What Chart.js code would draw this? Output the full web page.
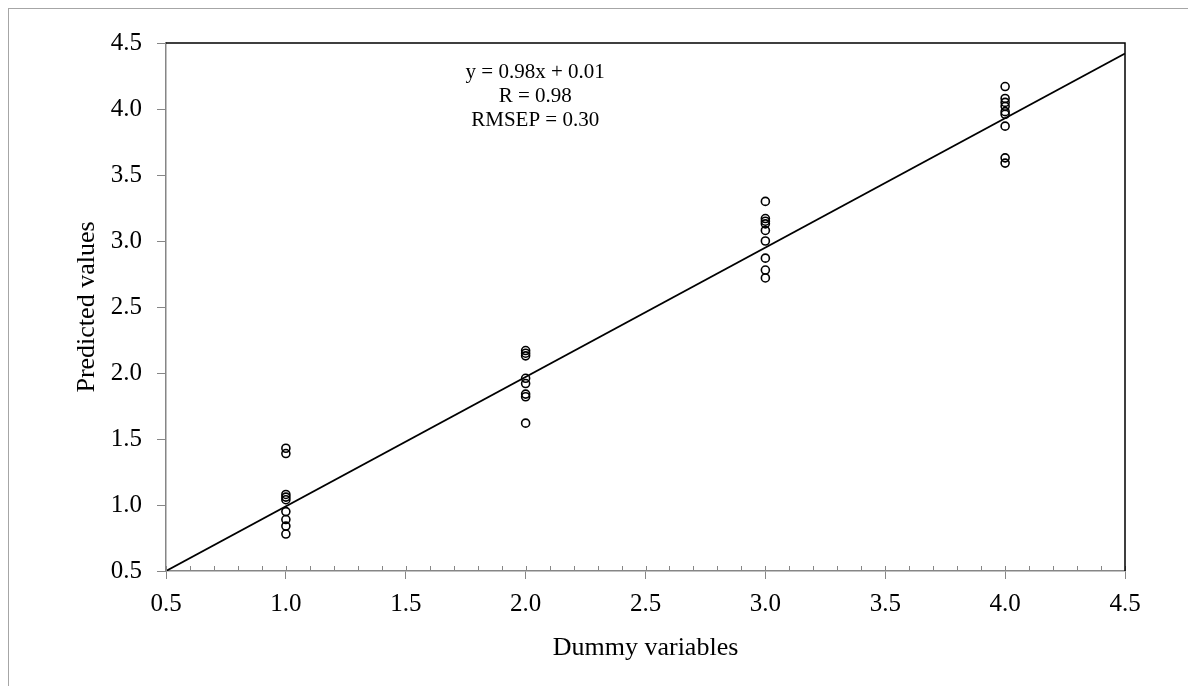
<!DOCTYPE html>
<html>
<head>
<meta charset="utf-8">
<script src="https://cdn.jsdelivr.net/npm/chart.js@4/dist/chart.umd.min.js"></script>
<style>
  html, body { margin: 0; padding: 0; background: #fff; }
  #wrap { position: relative; width: 1188px; height: 686px; overflow: hidden; }
  #frame { position: absolute; left: 8px; top: 8px; width: 1300px; height: 800px;
           border-left: 1.5px solid #a6a6a6; border-top: 1.5px solid #a6a6a6; }
  #cv { position: absolute; left: 0; top: 0; }
</style>
</head>
<body>
<div id="wrap">
  <div id="frame"></div>
  <canvas id="cv" width="1188" height="686"></canvas>
</div>
<script>
// Данные
const dummyX = [
  1, 1, 1, 1, 1, 1, 1, 1, 1,
  2, 2, 2, 2, 2, 2, 2, 2,
  3, 3, 3, 3, 3, 3, 3, 3, 3,
  4, 4, 4, 4, 4, 4, 4, 4, 4,
];
const predictedY = [
  1.43, 1.39, 1.08, 1.06, 1.04, 0.95, 0.89, 0.84, 0.78,
  2.17, 2.15, 2.13, 1.96, 1.92, 1.84, 1.82, 1.62,
  3.30, 3.17, 3.15, 3.13, 3.08, 3.00, 2.87, 2.78, 2.72,
  4.17, 4.08, 4.05, 4.02, 3.98, 3.96, 3.87, 3.63, 3.59,
];
const trendX = [0.5, 4.5];
const trendY = [0.5, 4.42];
const annotationLines = ["y = 0.98x + 0.01", "R = 0.98", "RMSEP = 0.30"];
const annotationAt = { x: 2.04, y: 4.28 };

const FONT = "'Liberation Serif', 'Times New Roman', serif";
const AXIS_GRAY = "#868686";

// ---------- Плагин: рамка, мелкие засечки, подпись ----------
const decorations = {
  id: "decorations",
  afterDraw(chart) {
    const c = chart.ctx;
    const { left, right, top, bottom } = chart.chartArea;
    const xs = chart.scales.x;
    const ys = chart.scales.y;

    // засечки внутрь по оси X, шаг 0.1
    c.save();
    c.strokeStyle = AXIS_GRAY;
    c.lineWidth = 1;
    for (let i = 0; i <= 40; i++) {
      const px = Math.round(xs.getPixelForValue(0.5 + i * 0.1)) + 0.5;
      c.beginPath();
      c.moveTo(px, bottom - 5);
      c.lineTo(px, bottom);
      c.stroke();
    }

    // верх и правая сторона области
    c.strokeStyle = "#000";
    c.lineWidth = 1.5;
    c.beginPath();
    c.moveTo(left, top);
    c.lineTo(right, top);
    c.lineTo(right, bottom);
    c.stroke();

    // подпись уравнения
    c.fillStyle = "#000";
    c.font = "21px " + FONT;
    c.textAlign = "center";
    c.textBaseline = "middle";
    const ax = xs.getPixelForValue(annotationAt.x);
    const ay = ys.getPixelForValue(annotationAt.y);
    annotationLines.forEach((t, i) => c.fillText(t, ax, ay + i * 24));
    c.restore();
  },
};

new Chart(document.getElementById("cv"), {
  type: "scatter",
  data: {
    datasets: [
      {
        label: "points",
        data: dummyX.map((x, i) => ({ x, y: predictedY[i] })),
        pointStyle: "circle",
        pointRadius: 4,
        pointBorderWidth: 1.6,
        pointBorderColor: "#000",
        pointBackgroundColor: "rgba(0,0,0,0)",
        showLine: false,
        order: 1,
      },
      {
        label: "trend",
        data: trendX.map((x, i) => ({ x, y: trendY[i] })),
        showLine: true,
        borderColor: "#000",
        borderWidth: 1.8,
        pointRadius: 0,
        tension: 0,
        order: 2,
      },
    ],
  },
  options: {
    responsive: false,
    animation: false,
    layout: { padding: { left: 0, top: 43, right: 63, bottom: 0 } },
    plugins: { legend: { display: false }, tooltip: { enabled: false } },
    scales: {
      x: {
        type: "linear",
        min: 0.5,
        max: 4.5,
        afterFit: (s) => { s.height = 115; },
        border: { color: AXIS_GRAY, width: 1.5 },
        grid: { drawOnChartArea: false, tickLength: 8, tickColor: AXIS_GRAY },
        ticks: {
          stepSize: 0.5,
          padding: 10,
          color: "#000",
          font: { family: FONT, size: 25 },
          callback: (v) => v.toFixed(1),
        },
        title: {
          display: true,
          text: "Dummy variables",
          color: "#000",
          font: { family: FONT, size: 26 },
          padding: { top: 0, bottom: 22 },
        },
      },
      y: {
        type: "linear",
        min: 0.5,
        max: 4.5,
        afterFit: (s) => { s.width = 166; },
        border: { color: AXIS_GRAY, width: 1.5 },
        grid: { drawOnChartArea: false, tickLength: 9, tickColor: AXIS_GRAY },
        ticks: {
          stepSize: 0.5,
          padding: 15,
          color: "#000",
          font: { family: FONT, size: 25 },
          callback: (v) => v.toFixed(1),
        },
        title: {
          display: true,
          text: "Predicted values",
          color: "#000",
          font: { family: FONT, size: 26 },
          padding: { top: 72, bottom: 0 },
        },
      },
    },
  },
  plugins: [decorations],
});
</script>
</body>
</html>
